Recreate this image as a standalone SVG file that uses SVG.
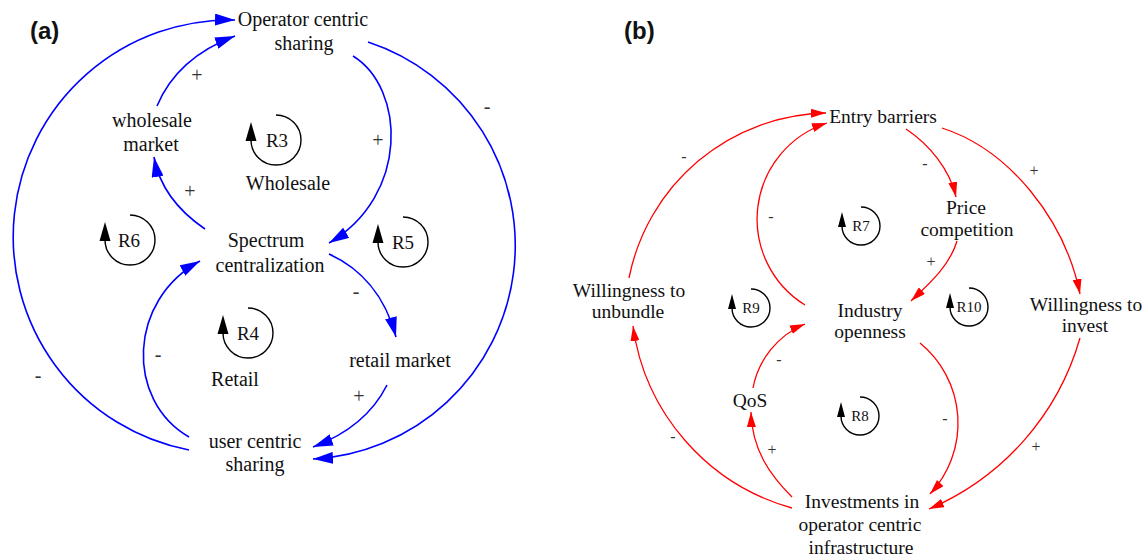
<svg xmlns="http://www.w3.org/2000/svg" width="1148" height="558" viewBox="0 0 1148 558">
<style>
.t{font-family:"Liberation Serif","Times New Roman",serif;font-size:20px;fill:#111;text-anchor:middle}
.tb{font-family:"Liberation Serif","Times New Roman",serif;font-size:19.5px;fill:#111;text-anchor:middle}
.r{font-family:"Liberation Serif","Times New Roman",serif;font-size:19px;fill:#111;text-anchor:middle}
.rb{font-family:"Liberation Serif","Times New Roman",serif;font-size:15px;fill:#111;text-anchor:middle}
.s{font-family:"Liberation Serif","Times New Roman",serif;font-size:20px;fill:#333;text-anchor:middle}
.sb{font-family:"Liberation Serif","Times New Roman",serif;font-size:16px;fill:#333;text-anchor:middle}
.h{font-family:"Liberation Sans",Arial,sans-serif;font-size:24px;font-weight:bold;fill:#111}
.blue{fill:none;stroke:#0000ff;stroke-width:1.6;marker-end:url(#ab)}
.red{fill:none;stroke:#ff0000;stroke-width:1.3;marker-end:url(#ar)}
.loop{fill:none;stroke:#000;stroke-width:1.4}
</style>
<defs>
<marker id="ab" markerUnits="userSpaceOnUse" markerWidth="20" markerHeight="12" refX="20" refY="6" orient="auto"><path d="M0,0 L20,6 L0,12 z" fill="#0000ff"/></marker>
<marker id="ar" markerUnits="userSpaceOnUse" markerWidth="15" markerHeight="9" refX="15" refY="4.5" orient="auto"><path d="M0,0 L15,4.5 L0,9 z" fill="#ff0000"/></marker>
</defs>
<rect width="1148" height="558" fill="#fff"/>
<text class="h" x="30" y="39">(a)</text>
<text class="h" x="624" y="39">(b)</text>

<g id="connectors">
<path class="blue" d="M189,450 A217,217 0 0 1 235,20"/>
<path class="blue" d="M368,42 A214,214 0 0 1 313,459"/>
<path class="blue" d="M157,106 C170,75 195,51 235,36"/>
<path class="blue" d="M205,229 C180,212 160,190 154,157"/>
<path class="blue" d="M353,56 C405,88 410,195 329,243"/>
<path class="blue" d="M329,254 C360,268 385,295 396,337"/>
<path class="blue" d="M387,385 C372,415 345,435 313,447"/>
<path class="blue" d="M189,437 C125,400 128,300 200,261"/>
<path class="red" d="M629,278 A205,205 0 0 1 826,113"/>
<path class="red" d="M805,305 A101,101 0 0 1 827,123"/>
<path class="red" d="M906,129 C930,145 950,170 956,197"/>
<path class="red" d="M957,241 C950,265 930,283 911,301"/>
<path class="red" d="M942,128 C1010,150 1065,220 1080,294"/>
<path class="red" d="M920,343 A103.5,103.5 0 0 1 930,494"/>
<path class="red" d="M1080,338 A265,265 0 0 1 929,509"/>
<path class="red" d="M792,497 C770,475 752,450 751,412"/>
<path class="red" d="M753,388 C758,360 778,335 805,324"/>
<path class="red" d="M792,508 A220,220 0 0 1 633,326"/>
</g>

<g id="polarities">
<text class="s" x="197" y="82">+</text>
<text class="s" x="190" y="198">+</text>
<text class="s" x="378" y="147">+</text>
<text class="s" x="487" y="113">-</text>
<text class="s" x="356" y="298">-</text>
<text class="s" x="158" y="361">-</text>
<text class="s" x="38" y="382">-</text>
<text class="s" x="359" y="403">+</text>
<text class="sb" x="684" y="162">-</text>
<text class="sb" x="771" y="222">-</text>
<text class="sb" x="925" y="169">-</text>
<text class="sb" x="1034" y="176">+</text>
<text class="sb" x="931" y="267">+</text>
<text class="sb" x="779" y="365">-</text>
<text class="sb" x="772" y="455">+</text>
<text class="sb" x="673" y="442">-</text>
<text class="sb" x="945" y="424">-</text>
<text class="sb" x="1036" y="452">+</text>
</g>

<g id="operator-centric-sharing"><text class="t" x="303" y="26">Operator centric</text><text class="t" x="304" y="50">sharing</text></g>
<g id="wholesale-market"><text class="t" x="152" y="127">wholesale</text><text class="t" x="151" y="151">market</text></g>
<g id="spectrum-centralization"><text class="t" x="266" y="247">Spectrum</text><text class="t" x="270" y="272">centralization</text></g>
<g id="retail-market"><text class="t" x="400" y="367">retail market</text></g>
<g id="user-centric-sharing"><text class="t" x="255" y="448">user centric</text><text class="t" x="255" y="471">sharing</text></g>

<g id="loop-R3"><path class="loop" d="M276,115 A25,25 0 1 1 251,140"/><polygon points="245.5,141 256.5,141 251,122"/><text class="r" x="277" y="147">R3</text><text class="t" x="288" y="190">Wholesale</text></g>
<g id="loop-R6"><path class="loop" d="M130,215 A25,25 0 1 1 105,240"/><polygon points="99.5,241 110.5,241 105,222"/><text class="r" x="129" y="247">R6</text></g>
<g id="loop-R5"><path class="loop" d="M403,217 A25,25 0 1 1 378,242"/><polygon points="372.5,243 383.5,243 378,224"/><text class="r" x="403" y="249">R5</text></g>
<g id="loop-R4"><path class="loop" d="M248,308 A25,25 0 1 1 223,333"/><polygon points="217.5,334 228.5,334 223,315"/><text class="r" x="248" y="340">R4</text><text class="t" x="235" y="386">Retail</text></g>

<g id="entry-barriers"><text class="tb" x="883" y="123">Entry barriers</text></g>
<g id="price-competition"><text class="tb" x="966" y="214">Price</text><text class="tb" x="967" y="236">competition</text></g>
<g id="willingness-to-unbundle"><text class="tb" x="629" y="297">Willingness to</text><text class="tb" x="628" y="318">unbundle</text></g>
<g id="industry-openness"><text class="tb" x="870" y="317">Industry</text><text class="tb" x="870" y="338">openness</text></g>
<g id="willingness-to-invest"><text class="tb" x="1086" y="311">Willingness to</text><text class="tb" x="1085" y="332">invest</text></g>
<g id="qos"><text class="tb" x="750" y="407">QoS</text></g>
<g id="investments"><text class="tb" x="862" y="508">Investments in</text><text class="tb" x="860" y="531">operator centric</text><text class="tb" x="861" y="554">infrastructure</text></g>

<g id="loop-R7"><path class="loop" d="M861,207 A19,19 0 1 1 842,226"/><polygon points="838,227 846,227 842,212"/><text class="rb" x="861" y="231">R7</text></g>
<g id="loop-R9"><path class="loop" d="M751,289 A19,19 0 1 1 732,308"/><polygon points="728,309 736,309 732,294"/><text class="rb" x="751" y="313">R9</text></g>
<g id="loop-R10"><path class="loop" d="M969,288 A19,19 0 1 1 950,307"/><polygon points="946,308 954,308 950,293"/><text class="rb" x="969" y="312">R10</text></g>
<g id="loop-R8"><path class="loop" d="M860,397 A19,19 0 1 1 841,416"/><polygon points="837,417 845,417 841,402"/><text class="rb" x="860" y="421">R8</text></g>
</svg>
